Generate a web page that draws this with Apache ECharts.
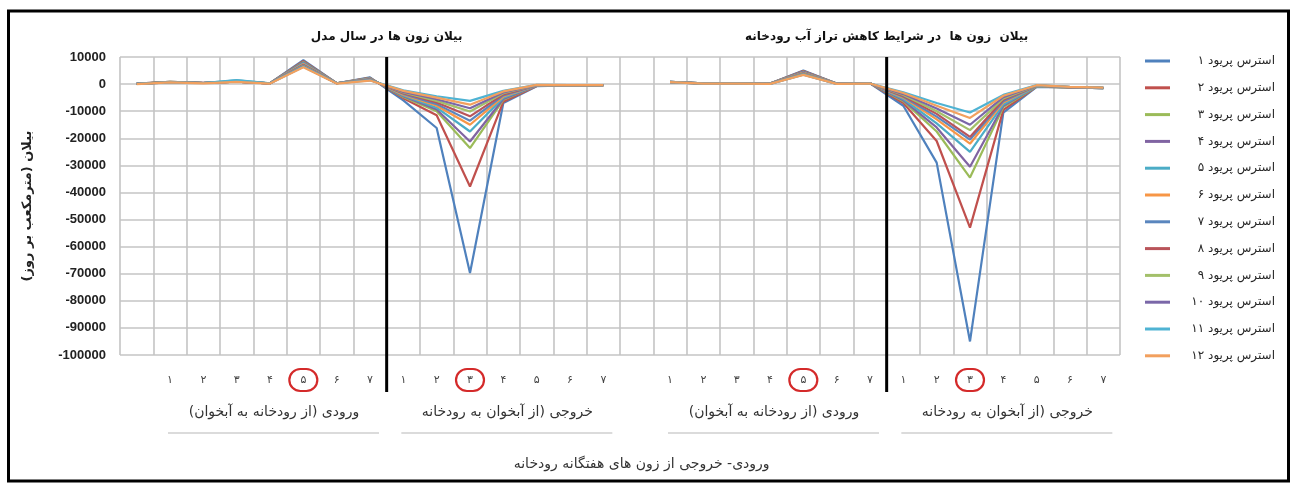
<!DOCTYPE html>
<html>
<head>
<meta charset="utf-8">
<script src="https://cdn.jsdelivr.net/npm/echarts@6/dist/echarts.min.js"></script>
<style>
  html, body { margin: 0; padding: 0; background: #ffffff; }
  #chart { width: 1295px; height: 486px; }
</style>
</head>
<body>
<div id="chart"></div>
<script>
// Zone numbers along the category axis: a spacer, 7 inflow zones, 7 outflow zones,
// then the same layout again for the reduced-river-level scenario.
const zoneLabels = [
  '', '۱', '۲', '۳', '۴', '۵', '۶', '۷', '۱', '۲', '۳', '۴', '۵', '۶', '۷',
  '', '۱', '۲', '۳', '۴', '۵', '۶', '۷', '۱', '۲', '۳', '۴', '۵', '۶', '۷'
];
// Zones highlighted with a red ring
const ringedZones = [5, 10, 20, 25];

const periodNames = [
  'استرس پریود ۱', 'استرس پریود ۲', 'استرس پریود ۳', 'استرس پریود ۴',
  'استرس پریود ۵', 'استرس پریود ۶', 'استرس پریود ۷', 'استرس پریود ۸',
  'استرس پریود ۹', 'استرس پریود ۱۰', 'استرس پریود ۱۱', 'استرس پریود ۱۲'
];

// Zone balance (m3/day) for each stress period
const period1  = [200, 800, 500, 900, 300, 8800, 300, 2500, -6000, -16200, -69700, -7000, -800, -500, -400, null, 800, 300, 300, 200, 5000, 200, 300, -8000, -29000, -95000, -10500, -1000, -1200, -1500];
const period2  = [200, 800, 500, 900, 300, 8500, 300, 2300, -5200, -11500, -37800, -6500, -700, -500, -400, null, 800, 300, 300, 200, 4800, 200, 300, -7000, -21000, -53000, -9500, -900, -1200, -1500];
const period3  = [100, 800, 400, 900, 300, 8200, 300, 2200, -4800, -10000, -23600, -5800, -600, -500, -400, null, 800, 300, 300, 200, 4600, 200, 300, -6300, -17500, -34500, -8500, -900, -1200, -1500];
const period4  = [100, 700, 400, 900, 300, 8000, 300, 2100, -4500, -9400, -21200, -5500, -600, -500, -400, null, 800, 300, 300, 200, 4500, 200, 300, -6000, -16000, -30500, -8000, -800, -1200, -1500];
const period5  = [100, 700, 400, 1500, 300, 7700, 300, 2000, -4200, -8700, -17500, -5000, -500, -500, -400, null, 800, 300, 300, 200, 4300, 200, 300, -5500, -14500, -25000, -7500, -800, -1200, -1500];
const period6  = [100, 700, 400, 900, 300, 7400, 300, 1900, -3900, -8000, -15000, -4600, -500, -500, -400, null, 700, 300, 300, 200, 4200, 200, 300, -5000, -13000, -22000, -6800, -700, -1200, -1400];
const period7  = [100, 700, 400, 900, 300, 7200, 300, 1800, -3600, -7400, -13500, -4200, -500, -400, -400, null, 700, 300, 300, 200, 4000, 200, 300, -4700, -12000, -20500, -6300, -700, -1100, -1400];
const period8  = [100, 700, 400, 900, 300, 7000, 300, 1700, -3400, -6800, -11900, -3800, -400, -400, -400, null, 700, 200, 200, 100, 3900, 100, 200, -4400, -11000, -19500, -5800, -600, -1100, -1400];
const period9  = [100, 700, 400, 900, 300, 6800, 300, 1600, -3100, -6200, -10100, -3400, -400, -400, -400, null, 700, 200, 200, 100, 3800, 100, 200, -4000, -10000, -17000, -5300, -600, -1100, -1400];
const period10 = [100, 600, 400, 900, 300, 6600, 300, 1500, -2900, -5600, -8900, -3100, -400, -400, -400, null, 700, 200, 200, 100, 3600, 100, 200, -3700, -9000, -15000, -4800, -500, -1100, -1400];
const period11 = [100, 600, 400, 1400, 300, 6400, 300, 1400, -2300, -4500, -6200, -2500, -300, -400, -400, null, 700, 200, 200, 100, 3500, 100, 200, -3000, -7000, -10500, -4000, -400, -1000, -1300];
const period12 = [0, 600, 300, 800, 200, 6200, 200, 1300, -2500, -5000, -7600, -2700, -300, -400, -400, null, 700, 200, 200, 100, 3400, 100, 200, -3300, -8000, -12500, -4300, -400, -1000, -1300];
const periodValues = [period1, period2, period3, period4, period5, period6,
                      period7, period8, period9, period10, period11, period12];

const periodColors = [
  '#4F81BD', '#C0504D', '#9BBB59', '#8064A2', '#4BACC6', '#F79646',
  '#5A86BE', '#B9545A', '#A3C06A', '#7A67A8', '#4FB3D3', '#F2A05E'
];

// Scenario panels, each with its inflow and outflow group (first/last category index)
const panelTitles = ['بیلان زون ها در سال مدل', 'بیلان  زون ها  در شرایط کاهش تراز آب رودخانه'];
const panelDividers = [[7, 8], [22, 23]];
const groupNames = ['ورودی (از رودخانه به آبخوان)', 'خروجی (از آبخوان به رودخانه',
                    'ورودی (از رودخانه به آبخوان)', 'خروجی (از آبخوان به رودخانه'];
const groupRanges = [[1, 7], [8, 14], [16, 22], [23, 29]];
const axisTitleX = 'ورودی- خروجی از زون های هفتگانه رودخانه';
const axisTitleY = 'بیلان (مترمکعب بر روز)';

const faFont = 'DejaVu Sans';
const numFont = 'Liberation Sans';

const chart = echarts.init(document.getElementById('chart'), null, { renderer: 'canvas' });

chart.setOption({
  backgroundColor: '#ffffff',
  animation: false,
  color: periodColors,
  grid: { left: 120, right: 175, top: 57, bottom: 131, containLabel: false },
  legend: {
    orient: 'vertical',
    left: 1140,
    top: 50,
    icon: 'rect',
    itemWidth: 25,
    itemHeight: 3,
    itemGap: 14.8,
    data: periodNames,
    formatter: function (name) { return '{t|' + name + '}'; },
    textStyle: {
      rich: {
        t: { fontFamily: faFont, fontSize: 12, color: '#262626', width: 100, align: 'right', lineHeight: 14 }
      }
    }
  },
  xAxis: {
    type: 'category',
    data: zoneLabels,
    boundaryGap: true,
    axisLine: { show: false },
    axisTick: { show: false },
    splitLine: { show: true, interval: 0, lineStyle: { color: '#c4c4c4', width: 1.6 } },
    axisLabel: {
      interval: 0,
      margin: 14,
      fontFamily: faFont,
      fontSize: 11,
      color: '#444',
      formatter: function (val, idx) {
        return ringedZones.indexOf(idx) >= 0 ? '{ring|' + val + '}' : '{n|' + val + '}';
      },
      rich: {
        n: { fontFamily: faFont, fontSize: 11, color: '#444', height: 22, lineHeight: 22 },
        ring: {
          fontFamily: faFont, fontSize: 11, color: '#444',
          width: 28, height: 22, lineHeight: 22, align: 'center',
          borderColor: '#d42a2a', borderWidth: 2.2, borderRadius: 11
        }
      }
    }
  },
  yAxis: {
    type: 'value',
    min: -100000,
    max: 10000,
    interval: 10000,
    name: axisTitleY,
    nameLocation: 'middle',
    nameGap: 86,
    nameRotate: 90,
    nameTextStyle: { fontFamily: faFont, fontWeight: 'bold', fontSize: 13, color: '#222' },
    axisLine: { show: false },
    axisTick: { show: false },
    splitLine: { show: true, lineStyle: { color: '#c4c4c4', width: 1.6 } },
    axisLabel: {
      margin: 14, fontFamily: numFont, fontWeight: 'bold', fontSize: 13, color: '#222',
      formatter: function (v) { return String(v); }
    }
  },
  series: periodValues.map(function (vals, i) {
    return {
      name: periodNames[i],
      type: 'line',
      data: vals,
      showSymbol: false,
      symbol: 'none',
      connectNulls: false,
      lineStyle: { width: 2.2, color: periodColors[i] },
      itemStyle: { color: periodColors[i] },
      z: 2 + i
    };
  })
});

// Annotations placed through the axis scales: dividers, panel titles, group captions
function drawAnnotations() {
  const px = function (i) { return chart.convertToPixel({ xAxisIndex: 0 }, i); };
  const yTop = chart.convertToPixel({ yAxisIndex: 0 }, 10000);
  const yBottom = chart.convertToPixel({ yAxisIndex: 0 }, -100000);
  const elements = [];

  panelDividers.forEach(function (pair, k) {
    const x = (px(pair[0]) + px(pair[1])) / 2;
    elements.push({
      type: 'line', z: 50,
      shape: { x1: x, y1: yTop, x2: x, y2: yBottom + 37 },
      style: { stroke: '#000', lineWidth: 3 }
    });
    elements.push({
      type: 'text', z: 50,
      style: {
        x: x, y: yTop - 20, text: panelTitles[k], align: 'center', verticalAlign: 'middle',
        font: 'bold 12px "' + faFont + '"', fill: '#111'
      }
    });
  });

  groupRanges.forEach(function (r, k) {
    const a = px(r[0]);
    const b = px(r[1]);
    elements.push({
      type: 'text', z: 50,
      style: {
        x: (a + b) / 2 + 4, y: yBottom + 57, text: groupNames[k], align: 'center', verticalAlign: 'middle',
        font: '14px "' + faFont + '"', fill: '#333'
      }
    });
    elements.push({
      type: 'line', z: 50,
      shape: { x1: a - 2, y1: yBottom + 78, x2: b + 9, y2: yBottom + 78 },
      style: { stroke: '#cfcfcf', lineWidth: 1.5 }
    });
  });

  elements.push({
    type: 'text', z: 50,
    style: {
      x: (px(14) + px(16)) / 2 + 5, y: yBottom + 109, text: axisTitleX, align: 'center', verticalAlign: 'middle',
      font: '14px "' + faFont + '"', fill: '#333'
    }
  });

  // outer frame
  elements.push({
    type: 'rect', z: 60,
    shape: { x: 8.5, y: 11, width: 1280, height: 470 },
    style: { fill: 'none', stroke: '#000', lineWidth: 3 }
  });

  chart.setOption({ graphic: elements });
}
drawAnnotations();
</script>
</body>
</html>
